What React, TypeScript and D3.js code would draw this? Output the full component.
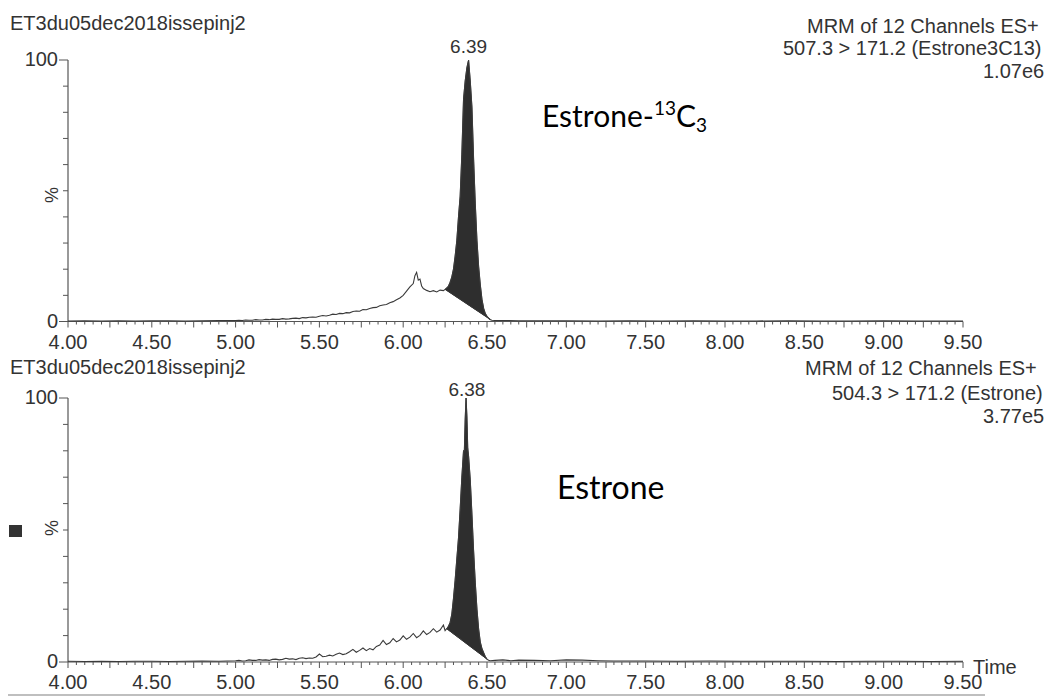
import React from 'react';
import * as d3 from 'd3';

// ---------- DATA ----------
// Estrone-13C3 trace (507.3 > 171.2), time in min, intensity in %
const topTime = [
  4.0, 4.1, 4.2, 4.3, 4.4, 4.5, 4.6, 4.7, 4.8, 4.9,
  5.0, 5.02, 5.04, 5.06, 5.08, 5.1, 5.12, 5.14, 5.16, 5.18,
  5.2, 5.22, 5.24, 5.26, 5.28, 5.3, 5.32, 5.34, 5.36, 5.38,
  5.4, 5.42, 5.44, 5.46, 5.48, 5.5, 5.52, 5.54, 5.56, 5.58,
  5.6, 5.62, 5.64, 5.66, 5.68, 5.7, 5.72, 5.74, 5.76, 5.78,
  5.8, 5.82, 5.84, 5.86, 5.88, 5.9, 5.92, 5.94, 5.96, 5.98,
  6.0, 6.02, 6.04, 6.06, 6.07, 6.08, 6.09, 6.1, 6.11, 6.12,
  6.14, 6.16, 6.18, 6.2, 6.22, 6.24, 6.25, 6.26, 6.27, 6.28,
  6.29, 6.3, 6.31, 6.32, 6.33, 6.34, 6.35, 6.36, 6.37, 6.38,
  6.39, 6.4, 6.41, 6.42, 6.43, 6.44, 6.45, 6.46, 6.47, 6.48,
  6.49, 6.5, 6.51, 6.52, 6.53, 6.55, 6.6, 6.7, 6.8, 6.9,
  7.0, 7.2, 7.4, 7.6, 7.8, 8.0, 8.2, 8.4, 8.6, 8.8,
  9.0, 9.2, 9.4, 9.5,
];
const topIntensity = [
  0.2, 0.3, 0.2, 0.3, 0.2, 0.3, 0.3, 0.2, 0.3, 0.4,
  0.4, 0.5, 0.4, 0.6, 0.5, 0.5, 0.7, 0.6, 0.6, 0.8,
  0.7, 0.9, 0.8, 0.8, 1.1, 0.9, 1.0, 1.2, 1.3, 1.1,
  1.5, 1.4, 1.6, 1.7, 1.6, 2.0, 2.3, 2.1, 2.4, 2.8,
  2.7, 3.1, 3.0, 3.4, 3.3, 3.8, 4.0, 3.9, 4.6, 4.5,
  5.0, 5.3, 5.4, 6.0, 6.3, 6.5, 7.2, 7.6, 8.3, 9.0,
  10.0, 11.6, 13.2, 14.5, 17.5, 18.8, 15.8, 16.2, 13.6, 12.6,
  11.9, 11.4, 11.8, 11.3, 12.0, 11.8, 12.3, 12.8, 13.5, 15.0,
  17.0, 20.0, 25.0, 31.0, 40.0, 48.0, 64.0, 85.0, 92.0, 97.0,
  100.0, 92.0, 82.0, 62.0, 45.0, 31.0, 21.0, 14.0, 8.4, 5.0,
  3.0, 2.0, 1.2, 0.8, 0.5, 0.4, 0.4, 0.3, 0.3, 0.3,
  0.3, 0.2, 0.3, 0.2, 0.3, 0.2, 0.2, 0.3, 0.2, 0.2,
  0.3, 0.2, 0.2, 0.2,
];

// Estrone trace (504.3 > 171.2)
const bottomTime = [
  4.0, 4.1, 4.2, 4.3, 4.4, 4.5, 4.6, 4.7, 4.8, 4.9,
  5.0, 5.02, 5.04, 5.06, 5.08, 5.1, 5.12, 5.14, 5.16, 5.18,
  5.2, 5.22, 5.24, 5.26, 5.28, 5.3, 5.32, 5.34, 5.36, 5.38,
  5.4, 5.42, 5.44, 5.46, 5.48, 5.5, 5.52, 5.54, 5.56, 5.58,
  5.6, 5.62, 5.64, 5.66, 5.68, 5.7, 5.72, 5.74, 5.76, 5.78,
  5.8, 5.82, 5.84, 5.86, 5.88, 5.9, 5.92, 5.94, 5.96, 5.98,
  6.0, 6.02, 6.04, 6.06, 6.08, 6.1, 6.12, 6.14, 6.16, 6.18,
  6.2, 6.22, 6.24, 6.25, 6.26, 6.27, 6.28, 6.29, 6.3, 6.31,
  6.32, 6.33, 6.34, 6.35, 6.36, 6.365, 6.37, 6.375, 6.38, 6.385,
  6.39, 6.4, 6.41, 6.42, 6.43, 6.44, 6.45, 6.46, 6.47, 6.48,
  6.49, 6.5, 6.51, 6.52, 6.55, 6.6, 6.65, 6.7, 6.8, 6.9,
  7.0, 7.1, 7.2, 7.3, 7.5, 7.7, 7.9, 8.1, 8.3, 8.5,
  8.7, 8.9, 9.1, 9.3, 9.5,
];
const bottomIntensity = [
  0.3, 0.2, 0.3, 0.2, 0.3, 0.3, 0.2, 0.3, 0.4, 0.3,
  0.5, 0.6, 0.4, 0.5, 0.8, 0.6, 0.6, 0.9, 0.7, 0.8,
  0.6, 1.0, 1.1, 0.8, 1.0, 1.4, 1.1, 1.2, 0.9, 1.4,
  1.6, 1.3, 1.5, 1.4, 1.9, 3.0, 2.0, 2.2, 2.6, 2.3,
  2.9, 3.4, 2.8, 3.1, 3.9, 4.8, 3.7, 4.4, 5.3, 4.3,
  5.1, 4.6, 5.9, 6.4, 8.2, 6.6, 7.3, 8.9, 7.6, 8.3,
  9.9, 8.6, 9.4, 10.8, 9.2, 10.1, 11.8, 10.4, 11.2, 12.6,
  11.3, 12.1, 14.0, 11.9, 12.6, 13.5, 15.0, 18.0, 24.0, 31.0,
  39.0, 47.0, 58.0, 70.0, 80.0, 80.0, 92.0, 100.0, 93.0, 81.0,
  78.0, 69.0, 56.0, 42.0, 30.0, 20.0, 12.5, 7.5, 5.0, 3.5,
  2.0, 1.1, 0.7, 0.5, 0.6, 0.8, 0.5, 0.7, 0.6, 0.5,
  0.8, 0.7, 0.5, 0.4, 0.4, 0.3, 0.4, 0.3, 0.3, 0.3,
  0.2, 0.3, 0.3, 0.2, 0.3,
];

const xTickLabels = [4.0, 4.5, 5.0, 5.5, 6.0, 6.5, 7.0, 7.5, 8.0, 8.5, 9.0, 9.5];
const yTickValues = [0, 10, 20, 30, 40, 50, 60, 70, 80, 90, 100];
const sampleName = 'ET3du05dec2018issepinj2';
const topHeader = ['MRM of 12 Channels ES+', '507.3 > 171.2 (Estrone3C13)', '1.07e6'];
const bottomHeader = ['MRM of 12 Channels ES+', '504.3 > 171.2 (Estrone)', '3.77e5'];
const topPeak = { time: 6.39, label: '6.39', start: 6.25, end: 6.52 };
const bottomPeak = { time: 6.38, label: '6.38', start: 6.26, end: 6.50 };

// ---------- LAYOUT ----------
const W = 1046;
const H = 697;
const FONT = '"Liberation Sans", Arial, sans-serif';
const TXT = '#333';
const AXIS = '#555';

const xScale = d3.scaleLinear().domain([4, 6.5, 9.5]).range([68, 487, 963]);
const minorTicks = d3.range(0, 111).map((i) => +(4 + i * 0.05).toFixed(2));

type PanelProps = {
  time: number[];
  values: number[];
  y0: number;
  y100: number;
  peak: { time: number; label: string; start: number; end: number };
  peakLabelGap: number;
  header: string[];
  headerY: number[];
  headerX: number[];
  nameY: number;
  pctY: number;
  showTime?: boolean;
};

function Panel(p: PanelProps) {
  const y = d3.scaleLinear().domain([0, 100]).range([p.y0, p.y100]);
  const pts = p.time.map((t, i) => ({ t, v: p.values[i] }));
  const line = d3.line<{ t: number; v: number }>().x((d) => xScale(d.t)).y((d) => y(d.v));
  const sIdx = p.time.indexOf(p.peak.start);
  const eIdx = p.time.indexOf(p.peak.end);
  const vs = p.values[sIdx];
  const ve = p.values[eIdx];
  const base = (t: number) => vs + ((ve - vs) * (t - p.peak.start)) / (p.peak.end - p.peak.start);
  const peakPts = pts.slice(sIdx, eIdx + 1);
  const area = d3
    .area<{ t: number; v: number }>()
    .x((d) => xScale(d.t))
    .y0((d) => y(base(d.t)))
    .y1((d) => y(d.v));
  const x0 = xScale(4);
  return (
    <g>
      <text x={10} y={p.nameY} fontSize={20} fill={TXT} fontFamily={FONT}>
        {sampleName}
      </text>
      {p.header.map((h, i) => (
        <text key={i} x={p.headerX[i]} y={p.headerY[i]} fontSize={20} fill={TXT} fontFamily={FONT}>
          {h}
        </text>
      ))}
      {/* y axis */}
      <line x1={x0} x2={x0} y1={y(100)} y2={y(0)} stroke={AXIS} strokeWidth={1.2} />
      {yTickValues.map((v) => (
        <line
          key={v}
          x1={x0 - (v === 0 || v === 100 ? 9 : 5)}
          x2={x0}
          y1={y(v)}
          y2={y(v)}
          stroke={AXIS}
          strokeWidth={1}
        />
      ))}
      <text x={58} y={y(100) + 6} fontSize={20} fill={TXT} fontFamily={FONT} textAnchor="end">
        100
      </text>
      <text x={58} y={y(0) + 6} fontSize={20} fill={TXT} fontFamily={FONT} textAnchor="end">
        0
      </text>
      <text
        transform={`translate(58, ${p.pctY}) rotate(-90)`}
        fontSize={18}
        fill={TXT}
        fontFamily={FONT}
        textAnchor="middle"
      >
        %
      </text>
      {/* x axis */}
      <line x1={x0} x2={xScale(9.5)} y1={y(0)} y2={y(0)} stroke={AXIS} strokeWidth={1.2} />
      {minorTicks.map((t) => {
        const major = Math.abs(t * 4 - Math.round(t * 4)) < 1e-6;
        return (
          <line
            key={t}
            x1={xScale(t)}
            x2={xScale(t)}
            y1={y(0)}
            y2={y(0) + (major ? 6 : 3)}
            stroke={AXIS}
            strokeWidth={1}
          />
        );
      })}
      {xTickLabels.map((t) => (
        <text
          key={t}
          x={xScale(t)}
          y={y(0) + 27}
          fontSize={20}
          fill={TXT}
          fontFamily={FONT}
          textAnchor="middle"
        >
          {t.toFixed(2)}
        </text>
      ))}
      {p.showTime && (
        <text x={973} y={y(0) + 12} fontSize={20} fill={TXT} fontFamily={FONT}>
          Time
        </text>
      )}
      {/* integrated peak */}
      <path d={area(peakPts) || ''} fill="#2e2e2e" stroke="#2e2e2e" strokeWidth={0.8} />
      <line
        x1={xScale(p.peak.start)}
        y1={y(vs)}
        x2={xScale(p.peak.end)}
        y2={y(ve)}
        stroke="#333"
        strokeWidth={1}
      />
      {/* trace */}
      <path d={line(pts) || ''} fill="none" stroke="#3a3a3a" strokeWidth={1.1} />
      <text
        x={xScale(p.peak.time)}
        y={y(100) - p.peakLabelGap}
        fontSize={19}
        fill={TXT}
        fontFamily={FONT}
        textAnchor="middle"
      >
        {p.peak.label}
      </text>
    </g>
  );
}

export default function App() {
  return (
    <svg
      width={W}
      height={H}
      viewBox={`0 0 ${W} ${H}`}
      style={{ position: 'absolute', left: 0, top: 0, background: '#fff', overflow: 'hidden' }}
    >
      <rect x={0} y={0} width={W} height={H} fill="#fff" />
      <Panel
        time={topTime}
        values={topIntensity}
        y0={321.5}
        y100={60}
        peak={topPeak}
        peakLabelGap={7}
        header={topHeader}
        headerX={[807, 783, 983]}
        headerY={[33, 55, 78]}
        nameY={30}
        pctY={195}
      />
      <Panel
        time={bottomTime}
        values={bottomIntensity}
        y0={662}
        y100={398}
        peak={bottomPeak}
        peakLabelGap={2}
        header={bottomHeader}
        headerX={[805, 832, 983]}
        headerY={[375, 400, 423]}
        nameY={374}
        pctY={528}
        showTime
      />
      <text x={542} y={127} fontSize={30} fill="#000" fontFamily="Lato, 'Open Sans', sans-serif">
        Estrone-
        <tspan fontSize={19} dy={-12}>
          13
        </tspan>
        <tspan fontSize={30} dy={12}>
          C
        </tspan>
        <tspan fontSize={19} dy={5}>
          3
        </tspan>
      </text>
      <text x={557} y={499} fontSize={32} fill="#000" fontFamily="Lato, 'Open Sans', sans-serif">
        Estrone
      </text>
      <rect x={9} y={525} width={13} height={12} fill="#333" />
      <line x1={8} x2={985} y1={695} y2={695} stroke="#aaa" strokeWidth={1.5} />
    </svg>
  );
}
